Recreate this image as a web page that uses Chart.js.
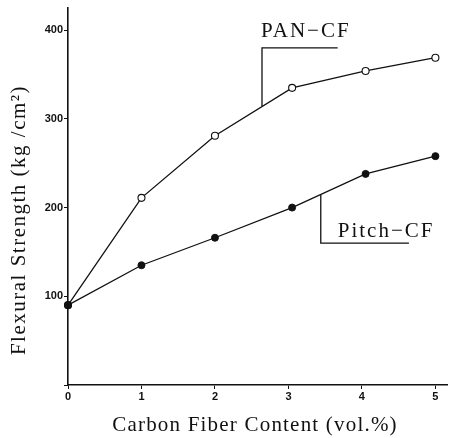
<!DOCTYPE html>
<html lang="en">
<head>
  <meta charset="UTF-8" />
  <title>Flexural Strength vs Carbon Fiber Content</title>
  <script src="https://cdn.jsdelivr.net/npm/chart.js"></script>
  <style>
    body {
      margin: 0;
      background: #fff;
    }
    #wrap {
      width: 453px;
      height: 438px;
    }
  </style>
</head>
<body>

<div id="wrap">
  <canvas id="flexChart" width="453" height="438"></canvas>
</div>

<script>
  // fiber content (vol.%) and flexural strength (kg/cm2)
  const panX = [0, 1, 2, 3.05, 4.05, 5];
  const panY = [90, 211, 281, 335, 354, 369];
  const pitchX = [0, 1, 2, 3.05, 4.05, 5];
  const pitchY = [90, 135, 166, 200, 238, 258];

  const yTicks = [0, 100, 200, 300, 400];
  const xTicks = [0, 1, 2, 3, 4, 5];

  const xTitle = 'Carbon Fiber Content (vol.%)';
  const yTitle = 'Flexural Strength (kg /cm\u00B2)';

  // label text, leader corner (x, y) and leader end x, in data units
  const panLabel = { text: 'PAN\u2212CF', corner: [2.64, 380], end: 3.67 };
  const pitchLabel = { text: 'Pitch\u2212CF', corner: [3.44, 160], end: 4.64 };

  const toPoints = (xs, ys) => xs.map((x, i) => ({ x: x, y: ys[i] }));

  // y of a series at some x, for the leader foot
  function lineAt(xs, ys, x) {
    for (let i = 1; i < xs.length; i++) {
      if (x <= xs[i]) {
        const t = (x - xs[i - 1]) / (xs[i] - xs[i - 1]);
        return ys[i - 1] + t * (ys[i] - ys[i - 1]);
      }
    }
    return ys[ys.length - 1];
  }

  const serif = '"Liberation Serif", "DejaVu Serif", serif';

  const extras = {
    id: 'extras',
    afterDraw(chart) {
      const ctx = chart.ctx;
      const xs = chart.scales.x;
      const ys = chart.scales.y;
      ctx.save();
      ctx.fillStyle = '#111';
      ctx.strokeStyle = '#111';
      ctx.lineWidth = 1.3;

      // axis titles
      ctx.font = '21px ' + serif;
      ctx.letterSpacing = '1.2px';
      ctx.textAlign = 'center';
      ctx.textBaseline = 'middle';
      ctx.fillText(xTitle, 255, 425);
      ctx.letterSpacing = '1.5px';
      ctx.save();
      ctx.translate(19, 220);
      ctx.rotate(-Math.PI / 2);
      ctx.fillText(yTitle, 0, 0);
      ctx.restore();

      // series labels with leaders
      const leader = (lab, xsArr, ysArr) => {
        const cx = xs.getPixelForValue(lab.corner[0]);
        const cy = ys.getPixelForValue(lab.corner[1]);
        const ex = xs.getPixelForValue(lab.end);
        const foot = ys.getPixelForValue(lineAt(xsArr, ysArr, lab.corner[0]));
        ctx.beginPath();
        ctx.moveTo(ex, cy);
        ctx.lineTo(cx, cy);
        ctx.lineTo(cx, foot);
        ctx.stroke();
        return { cx: cx, cy: cy };
      };

      ctx.font = '21px ' + serif;
      ctx.letterSpacing = '2px';
      ctx.textAlign = 'left';
      ctx.textBaseline = 'alphabetic';
      const p = leader(panLabel, panX, panY);
      ctx.fillText(panLabel.text, p.cx - 1, p.cy - 11);
      const q = leader(pitchLabel, pitchX, pitchY);
      ctx.fillText(pitchLabel.text, q.cx + 17, q.cy - 6);

      ctx.restore();
    }
  };

  const tickFont = { family: '"Liberation Sans", Arial, sans-serif', size: 11, weight: 'bold' };

  new Chart(document.getElementById('flexChart'), {
    type: 'scatter',
    data: {
      datasets: [
        {
          label: 'PAN-CF',
          data: toPoints(panX, panY),
          showLine: true,
          order: 1,
          clip: false,
          borderColor: '#111',
          borderWidth: 1.3,
          pointRadius: 3.5,
          pointBorderWidth: 1.1,
          pointBackgroundColor: '#fff',
          pointBorderColor: '#111'
        },
        {
          label: 'Pitch-CF',
          data: toPoints(pitchX, pitchY),
          showLine: true,
          order: 0,
          clip: false,
          borderColor: '#111',
          borderWidth: 1.3,
          pointRadius: 3.5,
          pointBorderWidth: 1,
          pointBackgroundColor: '#111',
          pointBorderColor: '#111'
        }
      ]
    },
    options: {
      responsive: false,
      animation: false,
      layout: { padding: { top: 8, right: 1, left: 0, bottom: 0 } },
      plugins: {
        legend: { display: false },
        tooltip: { enabled: false }
      },
      scales: {
        x: {
          type: 'linear',
          min: 0,
          max: 5.17,
          afterFit(scale) { scale.height = 53; },
          afterBuildTicks(scale) { scale.ticks = xTicks.map(v => ({ value: v })); },
          grid: { drawOnChartArea: false, drawTicks: true, tickLength: 4, color: '#111', lineWidth: 1 },
          border: { display: true, color: '#111', width: 1.6 },
          ticks: { color: '#111', font: tickFont, padding: 1, maxRotation: 0 }
        },
        y: {
          type: 'linear',
          min: 0,
          max: 425,
          afterFit(scale) { scale.width = 68; },
          afterBuildTicks(scale) { scale.ticks = yTicks.map(v => ({ value: v })); },
          grid: { drawOnChartArea: false, drawTicks: true, tickLength: 4, color: '#111', lineWidth: 1 },
          border: { display: true, color: '#111', width: 1.6 },
          ticks: {
            color: '#111',
            font: tickFont,
            padding: 1,
            callback: v => (v === 0 ? '' : v)
          }
        }
      }
    },
    plugins: [extras]
  });
</script>

</body>
</html>
